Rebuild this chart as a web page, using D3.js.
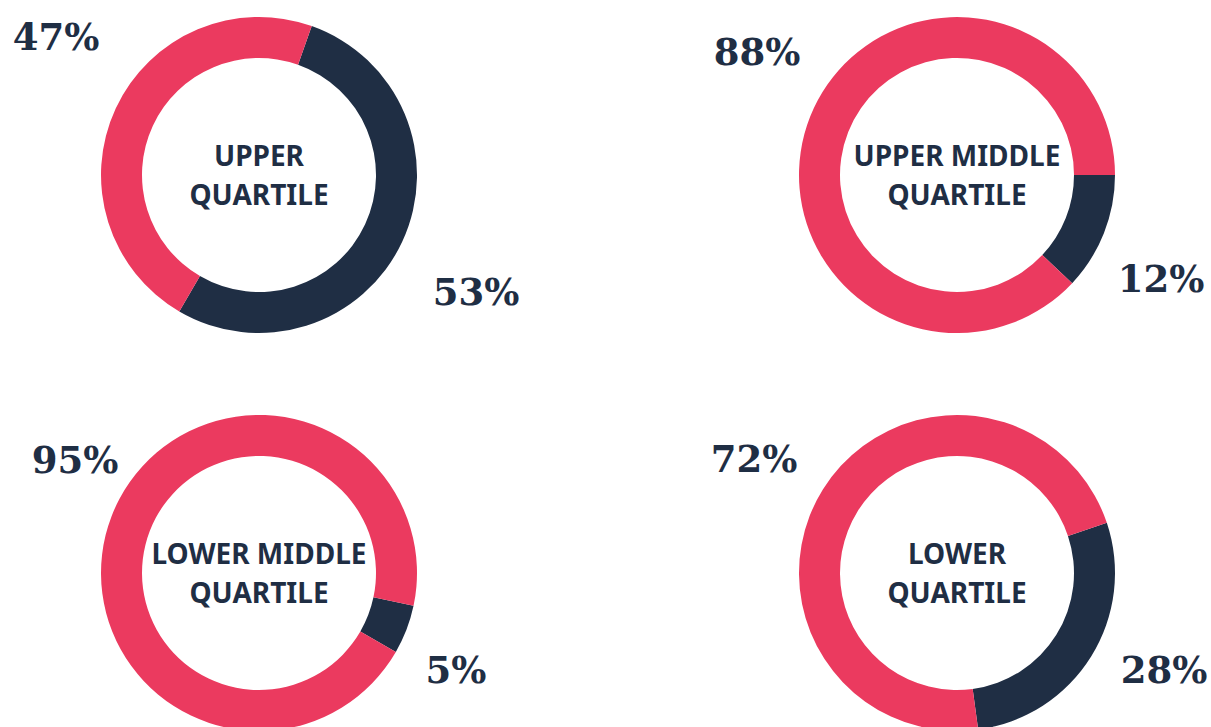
<!DOCTYPE html>
<html>
<head>
<meta charset="utf-8">
<script src="https://cdn.jsdelivr.net/npm/d3@7"></script>
<style>
    body { margin: 0; background: #fff; }
    .center-label { font-family: "Noto Sans", sans-serif; font-weight: 700; fill: #1f2e44; }
    .pct-label { font-family: "DejaVu Serif", serif; font-weight: 700; fill: #1f2e44; }
</style>
</head>
<body>
<div id="chart"></div>
<script>
// quartile names, one line per entry
const quartileLines = [
    ["UPPER", "QUARTILE"],
    ["UPPER MIDDLE", "QUARTILE"],
    ["LOWER MIDDLE", "QUARTILE"],
    ["LOWER", "QUARTILE"]
];
const pinkShare = [47, 88, 95, 72];
const navyShare = [53, 12, 5, 28];

const colors = { navy: "#1f2e44", pink: "#eb3a5f" };

// layout: grid cell, start angle of the navy slice (deg), label offsets
const width = 1211, height = 727;
const outerR = 158, innerR = 117;
const cols = d3.scalePoint().domain([0, 1]).range([259, 957]);
const rows = d3.scalePoint().domain([0, 1]).range([175, 573]);
const panelLayout = [
    { col: 0, row: 0, rot: 19.5, pink: [-203, -125], navy: [217, 130] },
    { col: 1, row: 0, rot: 90,   pink: [-200, -110], navy: [204, 117] },
    { col: 0, row: 1, rot: 102,  pink: [-184, -100], navy: [197, 110] },
    { col: 1, row: 1, rot: 71.5, pink: [-203, -101], navy: [207, 110] }
];

const svg = d3.select("#chart").append("svg")
    .attr("width", width)
    .attr("height", height);

const arc = d3.arc()
    .innerRadius(innerR)
    .outerRadius(outerR);

quartileLines.forEach((lines, i) => {
    const lay = panelLayout[i];
    const rad = lay.rot * Math.PI / 180;

    const pie = d3.pie()
        .sort(null)
        .value(d => d.value)
        .startAngle(rad)
        .endAngle(rad + 2 * Math.PI);

    const slices = [
        { key: "navy", value: navyShare[i] },
        { key: "pink", value: pinkShare[i] }
    ];

    const g = svg.append("g")
        .attr("transform", "translate(" + cols(lay.col) + "," + rows(lay.row) + ")");

    g.selectAll(".slice")
        .data(pie(slices))
        .enter().append("path")
        .attr("class", "slice")
        .attr("d", arc)
        .attr("fill", d => colors[d.data.key]);

    g.selectAll(".center-label")
        .data(lines)
        .enter().append("text")
        .attr("class", "center-label")
        .attr("text-anchor", "middle")
        .attr("x", 0)
        .attr("y", (d, j) => -9 + j * 39)
        .attr("font-size", 28)
        .text(d => d);

    slices.forEach(s => {
        const off = lay[s.key];
        g.append("text")
            .attr("class", "pct-label")
            .attr("text-anchor", "middle")
            .attr("x", off[0])
            .attr("y", off[1])
            .attr("font-size", 37)
            .text(s.value + "%");
    });
});
</script>
</body>
</html>
